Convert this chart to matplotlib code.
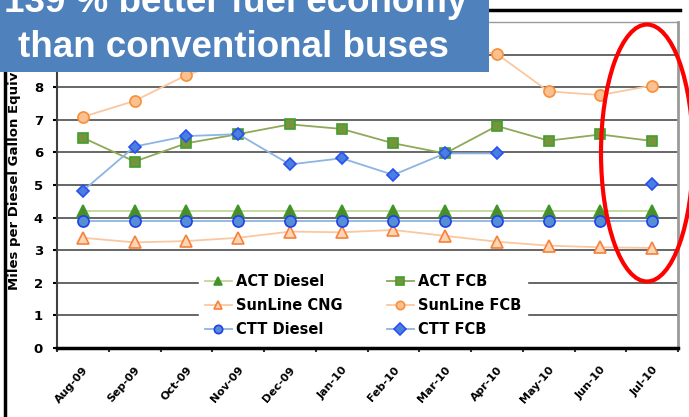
import matplotlib.pyplot as plt
import numpy as np
from matplotlib.patches import Ellipse, Rectangle
from matplotlib.lines import Line2D
from matplotlib.transforms import ScaledTranslation

months = ['Aug-09', 'Sep-09', 'Oct-09', 'Nov-09', 'Dec-09', 'Jan-10',
          'Feb-10', 'Mar-10', 'Apr-10', 'May-10', 'Jun-10', 'Jul-10']

act_diesel = [4.2, 4.2, 4.2, 4.2, 4.2, 4.2, 4.2, 4.2, 4.2, 4.2, 4.2, 4.2]
act_fcb = [6.45, 5.72, 6.28, 6.56, 6.86, 6.72, 6.28, 5.97, 6.81, 6.36, 6.55, 6.35]
sunline_cng = [3.38, 3.24, 3.28, 3.38, 3.57, 3.55, 3.62, 3.44, 3.26, 3.14, 3.09, 3.07]
sunline_fcb = [7.09, 7.58, 8.37, 8.9, 9.4, 9.0, 9.6, 9.3, 9.02, 7.87, 7.76, 8.05]
ctt_diesel = [3.9, 3.9, 3.9, 3.9, 3.9, 3.9, 3.9, 3.9, 3.9, 3.9, 3.9, 3.9]
ctt_fcb = [4.82, 6.18, 6.5, 6.56, 5.63, 5.82, 5.31, 5.97, 5.97, np.nan, np.nan, 5.03]

fig = plt.figure(figsize=(6.89, 4.17), dpi=100)
ax = fig.add_axes([57/689, 69/417, 621/689, 326/417])
x = np.arange(len(months))

# series: label, data, marker, face, edge, line colour
series = [
    ('ACT Diesel', act_diesel, '^', '#4E8A2A', '#3C9A2A', '#C3D69B'),
    ('ACT FCB', act_fcb, 's', '#77933C', '#3FA02E', '#8FA85A'),
    ('SunLine CNG', sunline_cng, '^', '#FCD5B5', '#F7803A', '#FAC7A0'),
    ('SunLine FCB', sunline_fcb, 'o', '#FAC090', '#F7903A', '#FAC7A0'),
    ('CTT Diesel', ctt_diesel, 'o', '#558ED5', '#2040E8', '#8DB4E2'),
    ('CTT FCB', ctt_fcb, 'D', '#4A7FE0', '#2A50F0', '#8DB4E2'),
]
sizes = {'^': 8, 's': 7.5, 'o': 8, 'D': 6}

handles = {}
for label, vals, m, fc, ec, lc in series:
    h, = ax.plot(x, vals, color=lc, lw=1.3, marker=m, ms=sizes[m],
                 markerfacecolor=fc, markeredgecolor=ec, markeredgewidth=1.2,
                 label=label, zorder=3)
    handles[label] = h

ax.set_xlim(-0.5, 11.5)
ax.set_ylim(0, 10)
ax.set_yticks(range(0, 11))
ax.set_yticklabels([str(i) for i in range(0, 11)], fontsize=9.5, fontweight='heavy')
ax.set_xticks(np.arange(-0.5, 12, 1), minor=False)
ax.set_xticklabels([])
ax.set_xticks(x, minor=True)
ax.set_xticklabels(months, minor=True, rotation=49, ha='right', va='top',
                   rotation_mode='anchor', fontsize=8, fontweight='heavy')
shift = ScaledTranslation(-8/100, -4/100, fig.dpi_scale_trans)
for lbl in ax.get_xticklabels(minor=True):
    lbl.set_transform(lbl.get_transform() + shift)
ax.tick_params(axis='x', which='major', length=3, width=1.5, color='#333333')
ax.tick_params(axis='x', which='minor', length=0, pad=12)
ax.tick_params(axis='y', length=3, width=1.5, pad=7)
ax.yaxis.grid(True, color='#5a5a5a', lw=1.3)
ax.set_axisbelow(True)

ax.spines['left'].set_color('#404040')
ax.spines['left'].set_linewidth(1.5)
ax.spines['bottom'].set_color('black')
ax.spines['bottom'].set_linewidth(2.5)
ax.spines['bottom'].set_zorder(6)
ax.spines['right'].set_color('#9a9a9a')
ax.spines['right'].set_linewidth(2)
ax.spines['top'].set_color('#9a9a9a')
ax.spines['top'].set_linewidth(1)

order = ['ACT Diesel', 'SunLine CNG', 'CTT Diesel', 'ACT FCB', 'SunLine FCB', 'CTT FCB']
leg = ax.legend([handles[k] for k in order], order, ncol=2, loc='center',
                bbox_to_anchor=(0.493, 0.13),
                frameon=True, facecolor='white', edgecolor='white',
                framealpha=1, fancybox=False,
                prop={'weight': 'heavy', 'size': 10.5},
                handlelength=1.85, columnspacing=3.0, labelspacing=0.6,
                borderpad=0.4, handletextpad=0.3)
leg.set_zorder(5)
for h in leg.legend_handles:
    h.set_markersize(6)

fig.text(15/689, 127/417, 'Miles per Diesel Gallon Equivalent', rotation=90,
         ha='center', va='bottom', fontsize=9.5, fontweight='heavy')

# red ellipse highlight
fig.patches.append(Ellipse((647/689, 1 - 153/417), 92/689, 257/417,
                           transform=fig.transFigure, fill=False,
                           edgecolor='#FF0000', lw=3, zorder=10))

# slide decorations
fig.add_artist(Line2D([5/689, 5/689], [0, 1], color='black', lw=2.5))
fig.add_artist(Line2D([489/689, 680/689], [1 - 10/417, 1 - 10/417],
                      color='black', lw=2.5))

fig.patches.append(Rectangle((0, 1 - 72/417), 489/689, 72/417,
                             transform=fig.transFigure, facecolor='#4F81BD',
                             edgecolor='none', zorder=20))
fig.text(4/689, 1 - 12/417, '139 % better fuel economy', color='white',
         fontsize=26.5, fontweight='bold', family='Liberation Sans',
         va='baseline', ha='left', zorder=21)
fig.text(18/689, 1 - 57/417, 'than conventional buses', color='white',
         fontsize=26.5, fontweight='bold', family='Liberation Sans',
         va='baseline', ha='left', zorder=21)

fig.savefig('out.png', dpi=100)
